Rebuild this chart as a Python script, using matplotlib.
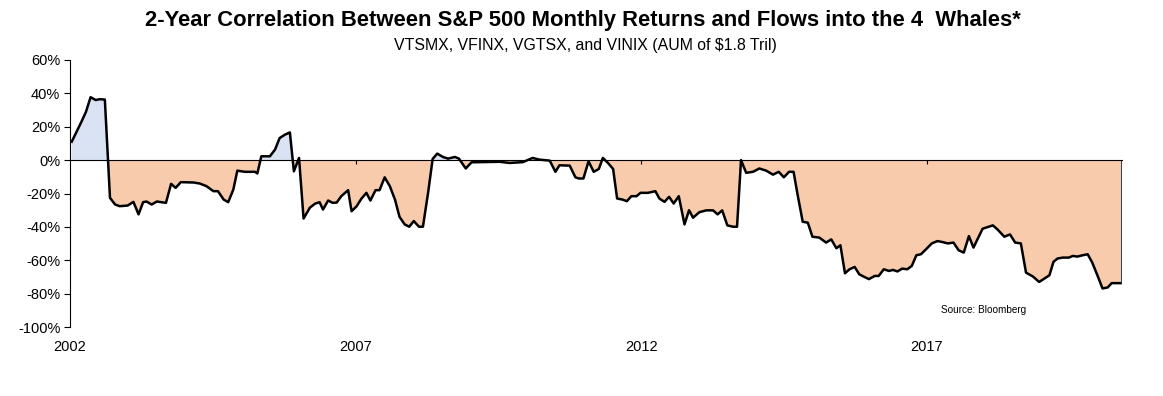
import numpy as np
import matplotlib.pyplot as plt

# 2-year rolling correlation (decimal year, %)
years = [2002.03, 2002.20, 2002.28, 2002.36, 2002.45, 2002.52, 2002.61, 2002.70, 2002.79, 2002.87,
         2003.01, 2003.11, 2003.20, 2003.28, 2003.34, 2003.43, 2003.52, 2003.60, 2003.68, 2003.77,
         2003.85, 2003.94, 2004.16, 2004.27, 2004.39, 2004.51, 2004.59, 2004.69, 2004.77, 2004.86,
         2004.93, 2005.06, 2005.24, 2005.28, 2005.35, 2005.50, 2005.59, 2005.67, 2005.76, 2005.85,
         2005.92, 2006.01, 2006.09, 2006.20, 2006.29, 2006.37, 2006.43, 2006.52, 2006.60, 2006.67,
         2006.75, 2006.87, 2006.93, 2007.02, 2007.10, 2007.19, 2007.26, 2007.35, 2007.42, 2007.51,
         2007.60, 2007.69, 2007.77, 2007.86, 2007.94, 2008.02, 2008.11, 2008.18, 2008.27, 2008.35,
         2008.43, 2008.53, 2008.62, 2008.74, 2008.81, 2008.93, 2009.03, 2009.52, 2009.70, 2009.93,
         2010.10, 2010.22, 2010.40, 2010.50, 2010.57, 2010.75, 2010.85, 2010.91, 2010.99, 2011.08,
         2011.17, 2011.26, 2011.33, 2011.42, 2011.51, 2011.58, 2011.67, 2011.75, 2011.83, 2011.92,
         2011.99, 2012.12, 2012.25, 2012.32, 2012.41, 2012.49, 2012.57, 2012.66, 2012.76, 2012.84,
         2012.91, 2013.02, 2013.14, 2013.26, 2013.34, 2013.42, 2013.51, 2013.61, 2013.68, 2013.75,
         2013.84, 2013.96, 2014.07, 2014.19, 2014.31, 2014.41, 2014.50, 2014.59, 2014.67, 2014.74,
         2014.83, 2014.92, 2015.00, 2015.12, 2015.24, 2015.33, 2015.42, 2015.49, 2015.57, 2015.65,
         2015.74, 2015.82, 2015.91, 2015.99, 2016.09, 2016.16, 2016.25, 2016.34, 2016.41, 2016.49,
         2016.57, 2016.66, 2016.74, 2016.82, 2016.90, 2016.99, 2017.09, 2017.19, 2017.28, 2017.37,
         2017.47, 2017.56, 2017.65, 2017.74, 2017.82, 2017.89, 2017.98, 2018.07, 2018.16, 2018.24,
         2018.36, 2018.46, 2018.55, 2018.65, 2018.74, 2018.86, 2018.97, 2019.06, 2019.15, 2019.22,
         2019.29, 2019.38, 2019.49, 2019.56, 2019.64, 2019.73, 2019.82, 2019.90, 2019.99, 2020.08,
         2020.17, 2020.24, 2020.40]
corr = [11.0, 23.0, 29.0, 37.7, 36.0, 36.5, 36.3, -22.6, -26.6, -27.6,
        -27.2, -25.0, -32.5, -25.2, -24.8, -26.6, -24.8, -25.2, -25.6, -14.2,
        -16.6, -13.2, -13.4, -14.0, -15.6, -18.6, -18.6, -23.6, -25.2, -17.6,
        -6.3, -7.0, -7.0, -8.0, 2.3, 2.3, 6.3, 13.2, 15.2, 16.6,
        -6.7, 1.3, -35.0, -28.5, -26.1, -25.2, -29.6, -24.2, -25.6, -25.4,
        -21.6, -18.0, -30.6, -27.6, -23.2, -19.6, -24.2, -18.0, -18.0, -10.3,
        -15.6, -23.6, -34.0, -38.5, -39.9, -36.5, -39.9, -39.9, -19.6, 0.7,
        3.9, 1.9, 0.9, 1.9, 0.9, -5.0, -1.3, -1.0, -1.7, -1.2,
        1.3, 0.3, -0.3, -7.0, -3.1, -3.3, -10.3, -11.0, -11.0, -0.7,
        -7.0, -5.3, 1.3, -1.7, -5.3, -23.0, -23.6, -24.6, -21.6, -21.6,
        -19.6, -19.6, -18.6, -23.0, -25.0, -22.0, -26.0, -21.6, -38.5, -30.0,
        -34.5, -31.2, -30.1, -30.1, -32.5, -30.1, -39.1, -39.9, -39.9, 0.0,
        -7.6, -7.0, -5.0, -6.3, -8.7, -7.0, -10.3, -7.0, -7.0, -20.6,
        -36.9, -37.5, -45.9, -46.4, -49.4, -47.5, -52.8, -51.0, -67.8, -65.4,
        -64.0, -68.4, -70.0, -71.3, -69.4, -69.4, -65.4, -66.4, -65.8, -66.7,
        -65.0, -65.4, -63.4, -57.0, -56.4, -53.4, -49.9, -48.5, -49.1, -49.9,
        -49.4, -54.0, -55.4, -45.5, -52.4, -47.5, -41.1, -40.1, -39.1, -41.5,
        -45.9, -44.5, -49.4, -49.9, -67.4, -69.7, -73.0, -71.0, -69.0, -61.0,
        -59.0, -58.4, -58.4, -57.4, -57.8, -57.0, -56.4, -61.4, -69.0, -76.9,
        -76.3, -73.7, -73.7]

year_ticks = [2002, 2007, 2012, 2017]
y_ticks = [-100, -80, -60, -40, -20, 0, 20, 40, 60]

plt.rcParams['font.family'] = ['Liberation Sans', 'DejaVu Sans']

fig = plt.figure(figsize=(11.63, 3.96), dpi=100)
ax = fig.add_axes([0.0602, 0.1742, 0.9045, 0.6743])

x = np.array(years)
y = np.array(corr)
ax.fill_between(x, y, 0, where=y >= 0, interpolate=True, color='#dae3f3', lw=0)
ax.fill_between(x, y, 0, where=y <= 0, interpolate=True, color='#f8cbad', lw=0)
ax.plot(x, y, color='black', lw=1.8)
ax.vlines(x[-1], y[-1], 0, color='#404040', lw=0.8)

ax.set_xlim(2002, 2020.42)
ax.set_ylim(-100, 60)

ax.spines['top'].set_visible(False)
ax.spines['right'].set_visible(False)
ax.spines['bottom'].set_position(('data', 0))
ax.spines['bottom'].set_linewidth(0.8)
ax.spines['left'].set_linewidth(0.8)

ax.set_xticks(year_ticks[1:])
ax.tick_params(axis='x', direction='out', length=3, width=0.8, labelbottom=False)
ax.set_yticks(y_ticks, [f'{v}%' for v in y_ticks])
ax.tick_params(axis='y', direction='out', length=4, width=0.8, labelsize=10.5, pad=3)

sec = ax.secondary_xaxis(0)
sec.set_xticks(year_ticks, [str(v) for v in year_ticks])
sec.spines['bottom'].set_visible(False)
sec.tick_params(length=0, pad=9, labelsize=10.5)

ax.text(0.868, 0.064, 'Source: Bloomberg', transform=ax.transAxes, ha='center', va='center', fontsize=7.2)

fig.text(0.501, 0.947, '2-Year Correlation Between S&P 500 Monthly Returns and Flows into the 4  Whales*',
         ha='center', va='center', fontsize=15.8, fontweight='bold')
fig.text(0.503, 0.886, 'VTSMX, VFINX, VGTSX, and VINIX (AUM of $1.8 Tril)',
         ha='center', va='center', fontsize=11.4)

fig.savefig('out.png', dpi=100)
